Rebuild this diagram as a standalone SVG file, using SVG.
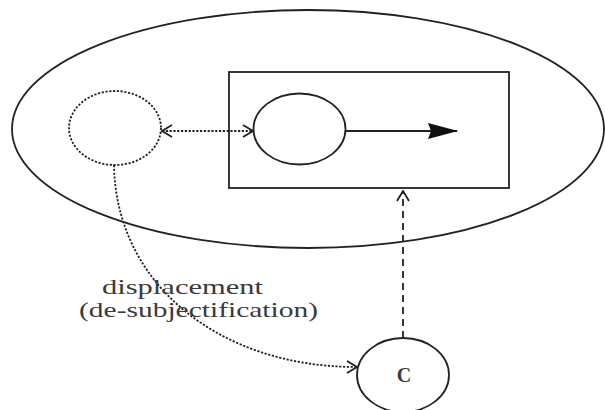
<svg xmlns="http://www.w3.org/2000/svg" width="605" height="410" viewBox="0 0 605 410">
  <style>
    .shape { fill: none; stroke: #222; stroke-width: 1.8; }
    .dotted { fill: none; stroke: #222; stroke-width: 1.8; stroke-dasharray: 2.2 1.6; }
    .dashed { fill: none; stroke: #222; stroke-width: 1.8; stroke-dasharray: 7 5; }
    .label { font-family: "Liberation Serif", "Times New Roman", serif; fill: #3a3a3a; }
  </style>
  <defs>
    <marker id="open" markerUnits="userSpaceOnUse" viewBox="0 0 12 14" refX="11" refY="7" markerWidth="12" markerHeight="14" orient="auto-start-reverse">
      <path d="M1,1 L11,7 L1,13" fill="none" stroke="#222" stroke-width="1.8"/>
    </marker>
    <marker id="solid" markerUnits="userSpaceOnUse" viewBox="0 0 30 16" refX="29" refY="8" markerWidth="30" markerHeight="16" orient="auto">
      <path d="M0,0 L30,8 L0,16 L3,8 Z" fill="#111"/>
    </marker>
  </defs>
  <rect width="605" height="410" fill="#fff"/>

  <g id="context">
    <ellipse class="shape" cx="308" cy="129" rx="296" ry="119"/>
  </g>
  <g id="frame">
    <rect class="shape" x="229" y="72" width="280" height="116" stroke-width="2.2"/>
  </g>
  <g id="displaced-subject">
    <ellipse class="dotted" cx="115" cy="128" rx="46" ry="37"/>
  </g>
  <g id="subject">
    <ellipse class="shape" cx="299.5" cy="129" rx="46" ry="35.5"/>
  </g>
  <g id="conceptualizer">
    <ellipse class="shape" cx="403" cy="375" rx="46" ry="37"/>
    <text class="label" x="404" y="382" font-size="20" font-weight="bold" text-anchor="middle">C</text>
  </g>

  <g id="connectors">
    <line class="shape" x1="345.5" y1="131" x2="457" y2="131" marker-end="url(#solid)"/>
    <line class="dotted" x1="162" y1="131" x2="253" y2="131" marker-start="url(#open)" marker-end="url(#open)"/>
    <line class="dashed" x1="403" y1="338" x2="403" y2="191" marker-end="url(#open)"/>
    <path class="dotted" d="M114,165 C116,285 220,367 357,367" marker-end="url(#open)"/>
  </g>

  <g id="labels">
    <text class="label" x="102" y="294" font-size="22" textLength="161" lengthAdjust="spacingAndGlyphs">displacement</text>
    <text class="label" x="79" y="317" font-size="22" textLength="239" lengthAdjust="spacingAndGlyphs">(de-subjectification)</text>
  </g>
</svg>
